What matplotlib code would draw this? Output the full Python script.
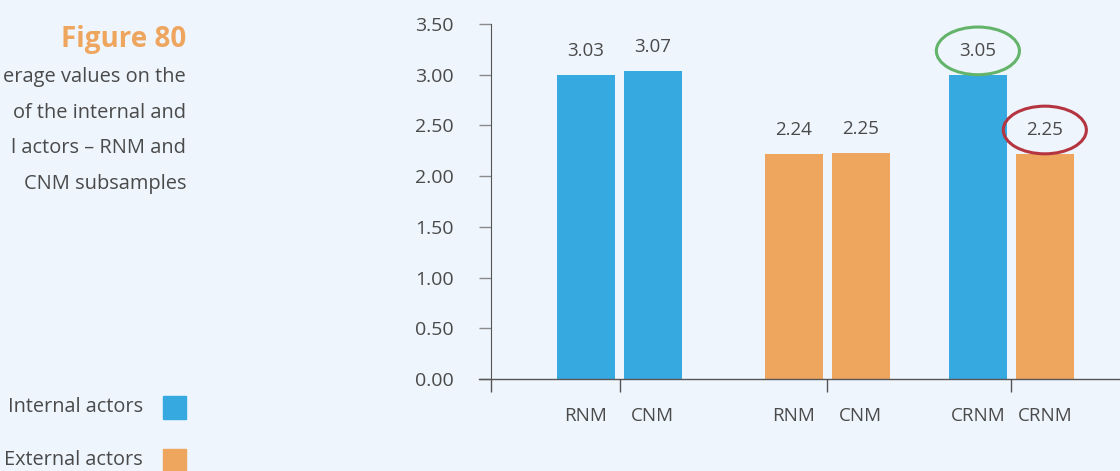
import matplotlib
matplotlib.use("Agg")
import matplotlib.pyplot as plt
from matplotlib.patches import Ellipse, Rectangle

# data
categories = ["RNM", "CNM", "RNM", "CNM", "CRNM", "CRNM"]
heights = [3.00, 3.04, 2.22, 2.23, 3.00, 2.22]   # bar tops as drawn
labels = ["3.03", "3.07", "2.24", "2.25", "3.05", "2.25"]  # printed values
series = ["int", "int", "ext", "ext", "int", "ext"]
yticks = [0.0, 0.5, 1.0, 1.5, 2.0, 2.5, 3.0, 3.5]
circled = {4: "#63b46a", 5: "#b4343f"}

blue = "#36a9e0"
orange = "#eea65f"
bg = "#eef5fd"
txt = "#4a4a4a"
colors = {"int": blue, "ext": orange}

plt.rcParams["font.family"] = ["Open Sans", "DejaVu Sans"]

fig = plt.figure(figsize=(11.2, 4.71), dpi=100, facecolor=bg)
ax = fig.add_axes([491 / 1120, 92 / 471, 629 / 1120, 355 / 471])
ax.set_facecolor(bg)

# bar positions (layout), one unit = bar pitch
pos = [1.413, 2.416, 4.521, 5.521, 7.267, 8.266]
seps = [0, 1.918, 5.015, 7.754]

ax.bar(pos, heights, width=0.866, color=[colors[s] for s in series])
for i, (x, h, lab) in enumerate(zip(pos, heights, labels)):
    ax.text(x, h + 0.235, lab, ha="center", va="center", fontsize=13.5, color=txt)
    if i in circled:
        ax.add_patch(Ellipse((x, h + 0.235), 1.24, 0.47, fill=False,
                             edgecolor=circled[i], lw=2.2, clip_on=False))

ax.set_xlim(0, 629 / 67)
ax.set_ylim(0, 3.5)
ax.set_yticks(yticks, [f"{v:.2f}" for v in yticks])
ax.tick_params(axis="y", length=9, width=1, color="#8a8a8a", pad=18,
               labelsize=14, labelcolor=txt)
ax.set_xticks(seps, [""] * len(seps))
ax.set_xticks(pos, categories, minor=True)
ax.tick_params(axis="x", which="major", length=9, width=1, color="#555555", direction="out")
ax.tick_params(axis="x", which="minor", length=0, pad=20, labelsize=13.5, labelcolor=txt)

for s in ["top", "right", "bottom"]:
    ax.spines[s].set_visible(False)
ax.spines["left"].set_color("#555555")
ax.plot([-12 / 629, 1], [0, 0], color="#555555", lw=1,
        transform=ax.get_yaxis_transform(), clip_on=False)

# title block on the left
fig.text(186 / 1120, 1 - 40 / 471, "Figure 80", ha="right", va="center",
         fontsize=20, fontweight="bold", color=orange)
lines = ["erage values on the", "of the internal and", "l actors – RNM and", "CNM subsamples"]
for k, line in enumerate(lines):
    fig.text(186 / 1120, 1 - (77 + 35.5 * k) / 471, line, ha="right", va="center",
             fontsize=14.4, color=txt)

# legend
for name, key, yc in [("Internal actors", "int", 407), ("External actors", "ext", 460)]:
    fig.text(143 / 1120, 1 - yc / 471, name, ha="right", va="center", fontsize=14.3, color=txt)
    fig.patches.append(Rectangle((163 / 1120, 1 - (yc + 12) / 471), 23 / 1120, 23 / 471,
                                 transform=fig.transFigure, color=colors[key]))

fig.savefig("out.png", dpi=100, facecolor=bg)
